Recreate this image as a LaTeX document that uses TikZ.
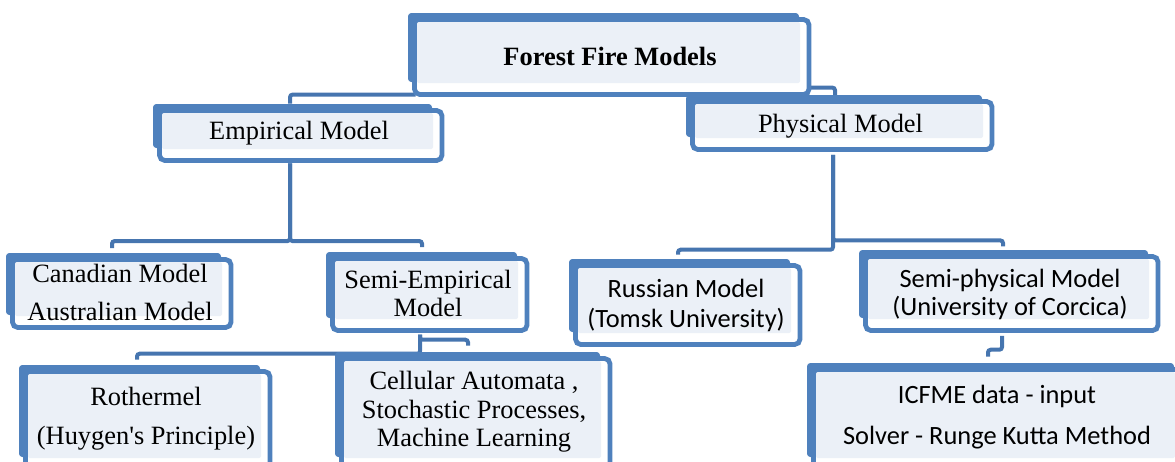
\documentclass[tikz,border=0pt]{standalone}
\usepackage{fontspec}
\setmainfont{Liberation Serif}
\newfontfamily\plainserif{Liberation Serif}[Ligatures=TeXOff]
\newfontfamily\calib{Carlito}
\usetikzlibrary{calc,backgrounds}
\definecolor{boxblue}{HTML}{4F81BD}
\definecolor{lnblue}{HTML}{4675AF}
\definecolor{lightfill}{HTML}{EBF0F7}
\tikzset{
  boxnode/.style={inner sep=0pt, align=center, font=\fontsize{19.8}{21}\selectfont},
  sansnode/.style={font=\calib\fontsize{19.8}{21}\selectfont},
  conn/.style={draw=lnblue, line width=3pt, rounded corners=2pt}
}
% #1 name, #2 x0, #3 y0, #4 x1, #5 y1, #6 node options, #7 text
\newcommand{\fbx}[7]{%
  \fill[boxblue,rounded corners=2.5pt] (#2,#3) rectangle ({#4-13},{#5-15});
  \draw[boxblue,line width=3.6pt,fill=white,rounded corners=4pt] ({#2+6.5},{#3+6.5}) rectangle ({#4-3},{#5-2.5});
  \fill[lightfill,rounded corners=1.5pt] ({#2+9},{#3+9}) rectangle ({#4-12},{#5-14});
  \node[boxnode,minimum width={(#4-#2)*0.75pt},minimum height={(#5-#3)*0.75pt},#6] (#1) at ({(#2+#4)/2},{(#3+#5)/2}) {#7};
}
\begin{document}
\begin{tikzpicture}[x=0.75pt,y=-0.75pt]
\useasboundingbox (0,0) rectangle (1175,461);

\fbx{root}{408}{13}{812}{97}{yshift=-1pt}{\bfseries Forest Fire Models}
\fbx{emp}{153}{104}{445}{163}{}{Empirical Model}
\fbx{phys}{686}{95}{995}{152}{yshift=-2pt}{Physical Model}
\fbx{can}{6}{253}{234}{330}{yshift=-1pt}{Canadian Model\\[7.5pt]Australian Model}
\fbx{semi}{326}{252}{530}{333}{yshift=-1pt}{Semi-Empirical\\Model}
\fbx{rus}{569}{259}{803}{347}{sansnode,yshift=-1.5pt}{Russian Model\\[1.5pt](Tomsk University)}
\fbx{sphys}{859}{250}{1161}{333}{sansnode,yshift=-2pt}{Semi-physical Model\\(University of Corcica)}
\fbx{roth}{19}{365}{273}{472}{}{Rothermel\\[8pt]{\plainserif (Huygen's Principle)}}
\fbx{cell}{335}{352}{613}{472}{}{Cellular Automata ,\\[0.5pt]Stochastic Processes,\\[0.5pt]Machine Learning}
\fbx{icf}{807}{363}{1187}{472}{sansnode}{ICFME data - input\\[9.75pt]Solver - Runge Kutta Method}

\begin{pgfonlayer}{background}
  % root -> empirical / physical
  \draw[conn] ($(root.south west)+(8,-4)$) -| ($(emp.north)+(-9,0)$);
  \draw[conn] ($(root.south east)+(-12,-11)$) -| ($(phys.north)+(-5.5,0)$);
  % empirical -> children
  \draw[conn] ($(emp.south)+(-9,0)$) |- ($(can.north)+(-8,-13)$) -- ($(can.north)+(-8,-6)$);
  \draw[conn] ($(emp.south)+(-9,0)$) |- ($(semi.north)+(-6,-12)$) -- ($(semi.north)+(-6,-6)$);
  % physical -> children
  \draw[conn] ($(phys.south)+(-7.5,0)$) |- ($(rus.north)+(-8,-11)$) -- ($(rus.north)+(-8,-6)$);
  \draw[conn] ($(phys.south)+(-7.5,0)$) |- ($(sphys.north)+(-7,-12)$) -- ($(sphys.north)+(-7,-6)$);
  % semi-physical -> ICFME
  \draw[conn] ($(sphys.south)+(-8,0)$) |- ($(icf.north)+(-9,-13)$) -- ($(icf.north)+(-9,-6)$);
  % semi-empirical -> children
  \draw[conn] ($(semi.south)+(-8,0)$) |- ($(cell.north)+(-6,-12)$) -- ($(cell.north)+(-6,-6)$);
  \draw[conn] ($(semi.south)+(-8,0)$) |- ($(roth.north)+(-9,-11)$) -- ($(roth.north)+(-9,-5)$);
\end{pgfonlayer}
\end{tikzpicture}
\end{document}
